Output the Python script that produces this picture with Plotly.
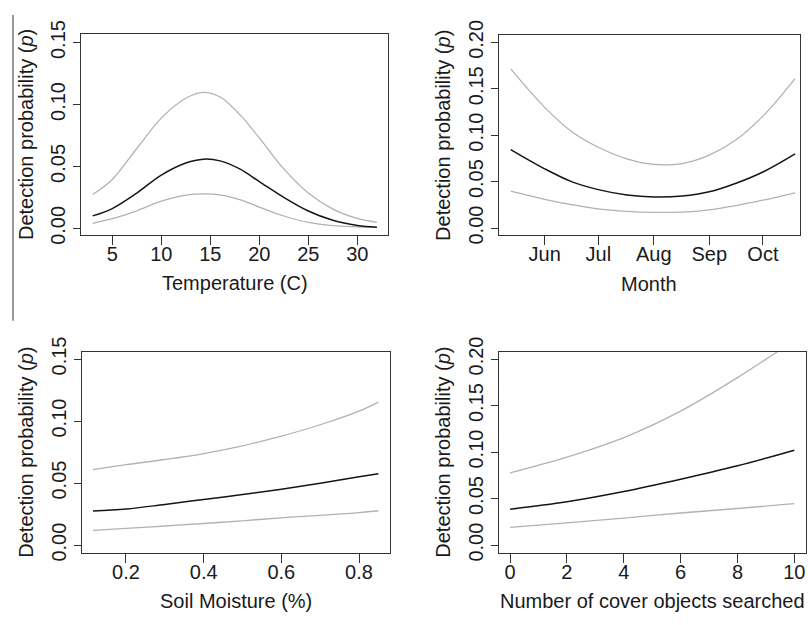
import plotly.graph_objects as go

W, H = 808, 625

# ---------------- data ----------------
temp_x = [3, 5, 7.5, 10, 12.5, 14.3, 16, 18, 20, 22.5, 25, 27.5, 30, 32]
temp_mean = [0.0101, 0.0160, 0.0285, 0.0430, 0.0528, 0.0559, 0.0545, 0.0480,
             0.0378, 0.0250, 0.0140, 0.0065, 0.0024, 0.0010]
temp_upper = [0.0274, 0.0395, 0.0645, 0.0890, 0.1050, 0.1098, 0.1060, 0.0920,
              0.0730, 0.0480, 0.0285, 0.0155, 0.0080, 0.0049]
temp_lower = [0.0041, 0.0078, 0.0142, 0.0220, 0.0268, 0.0279, 0.0270, 0.0232,
              0.0172, 0.0100, 0.0048, 0.0023, 0.0013, 0.0008]

month_x = ["2013-05-13", "2013-06-01", "2013-06-16", "2013-07-01", "2013-07-17",
           "2013-08-01", "2013-08-17", "2013-09-01", "2013-09-16", "2013-10-01",
           "2013-10-19"]
month_mean = [0.0845, 0.0638, 0.0500, 0.0414, 0.0356, 0.0335, 0.0345, 0.0390,
              0.0483, 0.0604, 0.0800]
month_upper = [0.1714, 0.1300, 0.1040, 0.0870, 0.0745, 0.0685, 0.0695, 0.0785,
               0.0950, 0.1205, 0.1610]
month_lower = [0.0397, 0.0310, 0.0252, 0.0207, 0.0180, 0.0169, 0.0172, 0.0197,
               0.0242, 0.0300, 0.0380]
month_tickvals = ["2013-06-01", "2013-07-01", "2013-08-01", "2013-09-01", "2013-10-01"]
month_ticktext = ["Jun", "Jul", "Aug", "Sep", "Oct"]

soil_x = [0.115, 0.2, 0.3, 0.4, 0.5, 0.6, 0.7, 0.8, 0.85]
soil_mean = [0.0274, 0.0290, 0.0328, 0.0368, 0.0407, 0.0450, 0.0498, 0.0550, 0.0575]
soil_upper = [0.0608, 0.0648, 0.0690, 0.0738, 0.0800, 0.0878, 0.0970, 0.1080, 0.1153]
soil_lower = [0.0119, 0.0135, 0.0154, 0.0174, 0.0196, 0.0220, 0.0240, 0.0262, 0.0277]

cover_x = [0, 2, 4, 6, 8, 10]
cover_mean = [0.0386, 0.0465, 0.0575, 0.0707, 0.0852, 0.1020]
cover_upper = [0.0776, 0.0945, 0.1155, 0.1440, 0.1800, 0.2200]
cover_lower = [0.0190, 0.0238, 0.0290, 0.0345, 0.0393, 0.0445]

ytitle = "Detection probability (<i>p</i>)"
xtitles = ["Temperature (C)", "Month", "Soil Moisture (%)", "Number of cover objects searched"]

# ---------------- layout helpers ----------------
def xd(a, b):
    return [a / W, b / W]


def yd(top, bottom):
    return [1 - bottom / H, 1 - top / H]


# panel boxes in pixels: left, right, top, bottom
boxes = [
    (81.3, 388.3, 20.0, 229.0),
    (498.7, 799.7, 20.7, 229.3),
    (81.7, 389.7, 350.0, 559.0),
    (498.7, 805.7, 350.0, 559.0),
]
xranges = [[1.84, 33.16], ["2013-05-06 07:00", "2013-10-21 14:00"], [0.086, 0.879], [-0.4, 10.4]]
yranges = [[-0.0055, 0.1567], [-0.008, 0.208], [-0.006, 0.156], [-0.008, 0.208]]

FONT = "Liberation Sans, Arial, Helvetica, sans-serif"
TXT = "#1a1a1a"
BLACK = "#151515"
GREY = "#b2b2b2"

fig = go.Figure()
series = [
    (temp_x, temp_upper, temp_mean, temp_lower),
    (month_x, month_upper, month_mean, month_lower),
    (soil_x, soil_upper, soil_mean, soil_lower),
    (cover_x, cover_upper, cover_mean, cover_lower),
]
for i, (xs, up, mn, lo) in enumerate(series, start=1):
    ax = "x" if i == 1 else f"x{i}"
    ay = "y" if i == 1 else f"y{i}"
    for ys, col, wd in ((up, GREY, 1.3), (lo, GREY, 1.3), (mn, BLACK, 1.5)):
        fig.add_trace(go.Scatter(x=xs, y=ys, mode="lines", xaxis=ax, yaxis=ay,
                                 line=dict(color=col, width=wd, shape="spline", smoothing=1.0),
                                 showlegend=False, hoverinfo="skip"))

common = dict(showline=True, mirror=True, linecolor="#333", linewidth=1,
              ticks="outside", tickcolor="#333", tickwidth=1,
              showgrid=False, zeroline=False,
              tickfont=dict(family=FONT, size=20, color=TXT))

layout = dict(width=W, height=H, margin=dict(l=0, r=0, t=0, b=0),
              paper_bgcolor="white", plot_bgcolor="white", showlegend=False)
annotations = []
for i in range(1, 5):
    l, r, t, b = boxes[i - 1]
    xk = "xaxis" if i == 1 else f"xaxis{i}"
    yk = "yaxis" if i == 1 else f"yaxis{i}"
    ya = "y" if i == 1 else f"y{i}"
    xa = "x" if i == 1 else f"x{i}"
    xax = dict(common, domain=xd(l, r), anchor=ya, range=xranges[i - 1], ticklen=9,
               ticklabelstandoff=-8)
    if i == 2:
        xax.update(type="date", tickmode="array", tickvals=month_tickvals, ticktext=month_ticktext)
    elif i == 1:
        xax.update(tickmode="array", tickvals=[5, 10, 15, 20, 25, 30])
    elif i == 3:
        xax.update(tickmode="array", tickvals=[0.2, 0.4, 0.6, 0.8], tickformat=".1f")
    else:
        xax.update(tickmode="array", tickvals=[0, 2, 4, 6, 8, 10])
    yr = yranges[i - 1]
    yvals = [0, 0.05, 0.10, 0.15] if yr[1] < 0.2 else [0, 0.05, 0.10, 0.15, 0.20]
    yax = dict(common, domain=yd(t, b), anchor=xa, range=yr, ticklen=7,
               tickmode="array", tickvals=yvals, tickformat=".2f", tickangle=-90)
    layout[xk] = xax
    layout[yk] = yax
    annotations.append(dict(text=xtitles[i - 1], xref="paper", yref="paper",
                            x=((l + r) / 2) / W, y=1 - (b + 50) / H,
                            xanchor="center", yanchor="middle", showarrow=False,
                            font=dict(family=FONT, size=20, color=TXT)))
    annotations.append(dict(text=ytitle, xref="paper", yref="paper",
                            x=(l - 56) / W, y=1 - ((t + b) / 2) / H, textangle=-90,
                            xanchor="center", yanchor="middle", showarrow=False,
                            font=dict(family=FONT, size=20, color=TXT)))

layout["annotations"] = annotations
layout["shapes"] = [dict(type="line", xref="paper", yref="paper",
                         x0=13 / W, x1=13 / W, y0=1 - 318 / H, y1=1,
                         line=dict(color="#333", width=1))]
fig.update_layout(**layout)
fig.write_html("out.html")
